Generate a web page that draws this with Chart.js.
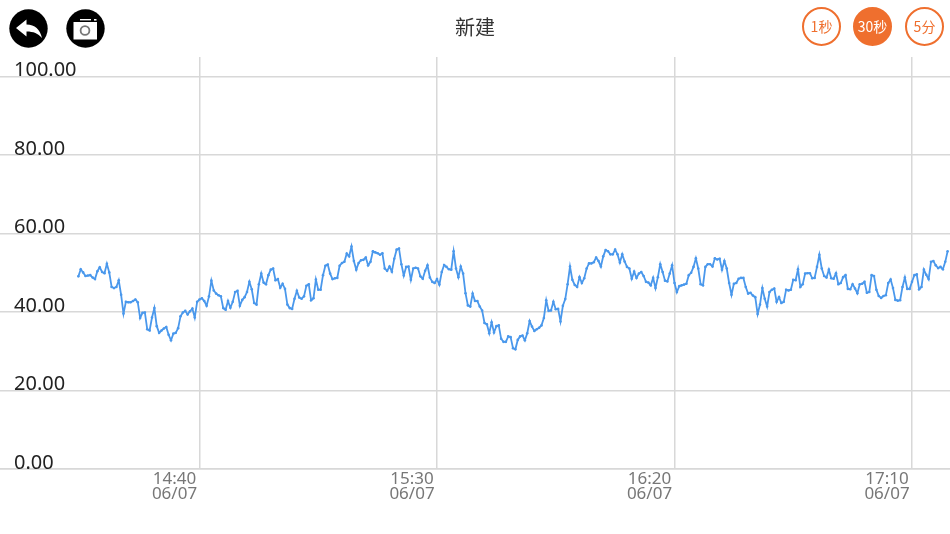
<!DOCTYPE html>
<html>
<head>
<meta charset="utf-8">
<title>新建</title>
<script src="https://cdn.jsdelivr.net/npm/chart.js@4"></script>
<style>
  html, body { margin: 0; padding: 0; background: #fff; }
  #wrap { position: relative; width: 950px; height: 534px; overflow: hidden; }
  #chart { position: absolute; left: 0; top: 0; }
  .title {
    position: absolute; left: 375px; width: 200px; top: 12px; text-align: center;
    font: 20px/30px "Noto Sans CJK SC", sans-serif; color: #333;
  }
  .icon { position: absolute; top: 9px; width: 39px; height: 39px; }
  .btn {
    position: absolute; top: 7px; width: 35px; height: 35px; border: 2px solid #ef6f2e;
    border-radius: 50%; text-align: center; color: #ef6f2e;
    font: 14px/35px "Noto Sans CJK SC", sans-serif;
  }
  .btn.on { background: #ef6f2e; color: #fff; }
</style>
</head>
<body>
<div id="wrap">
  <canvas id="chart" width="950" height="534"></canvas>
  <svg class="icon" style="left:9px" viewBox="0 0 39 39">
    <circle cx="19.5" cy="19.5" r="19.2" fill="#000"/>
    <path d="M7 19 L17.5 10.5 V15.5 C26 15.5 31 20.5 33 29 C29 24.5 24.5 22.5 17.5 22.5 V27.5 Z" fill="#fff"/>
  </svg>
  <svg class="icon" style="left:66px" viewBox="0 0 39 39">
    <circle cx="19.5" cy="19.5" r="19.2" fill="#000"/>
    <rect x="7.5" y="13" width="23.5" height="17.5" fill="#fff"/>
    <rect x="14" y="10" width="11" height="1.4" fill="#fff"/>
    <rect x="28" y="10" width="2.5" height="1.6" fill="#fff"/>
    <circle cx="19" cy="21.5" r="4.4" fill="#fff" stroke="#777" stroke-width="1.8"/>
  </svg>
  <div class="title">新建</div>
  <div class="btn" style="left:802px">1秒</div>
  <div class="btn on" style="left:853px">30秒</div>
  <div class="btn" style="left:905px">5分</div>
</div>

<script>
// ── Data ──
const startMinute = 854.5;  // 14:14:30, one sample every 30 sec
const stepMinute = 0.5;

const values = [
  49.1, 50.9, 50.1, 49.2, 49.3, 49.4, 48.8, 48.4, 50.4, 51.4, 50.2, 49.9, 52.3, 50.1, 46.4, 46.1, 46.4, 48.1, 44.4, 39.6,
  42.6, 42.5, 42.5, 42.8, 43.2, 42.5, 38.5, 39.8, 39.9, 35.6, 35.3, 38.6, 41.0, 36.4, 34.7, 35.3, 35.8, 36.2, 34.2, 32.8,
  34.5, 34.7, 35.9, 38.9, 39.9, 40.3, 39.4, 40.2, 40.9, 38.6, 42.6, 43.2, 43.5, 42.8, 41.6, 44.0, 48.0, 45.5, 44.7, 44.3,
  44.0, 41.0, 40.6, 42.8, 41.1, 42.6, 45.1, 45.4, 41.6, 43.1, 43.8, 45.1, 47.7, 45.8, 42.3, 41.9, 47.1, 49.8, 47.5, 47.1,
  49.4, 50.8, 51.1, 48.1, 48.4, 46.2, 47.2, 45.9, 41.9, 41.0, 40.8, 43.4, 45.4, 43.7, 43.4, 44.0, 46.7, 47.1, 43.0, 43.5,
  48.3, 45.7, 45.7, 49.4, 51.8, 52.1, 49.8, 48.4, 48.6, 48.7, 51.8, 52.5, 52.8, 54.9, 54.2, 56.7, 53.0, 50.8, 52.5, 53.2,
  53.3, 53.9, 51.9, 52.8, 55.5, 55.2, 55.0, 54.6, 55.0, 51.1, 50.5, 51.6, 50.3, 53.6, 55.9, 56.2, 52.2, 49.3, 51.5, 51.6,
  48.2, 51.1, 51.3, 51.1, 49.1, 48.5, 50.5, 51.9, 48.8, 47.7, 47.4, 48.4, 47.0, 50.2, 52.0, 51.5, 50.9, 50.8, 55.5, 51.1,
  48.9, 51.6, 49.8, 44.8, 41.7, 41.4, 44.7, 42.8, 42.8, 41.4, 40.4, 37.2, 36.9, 34.6, 37.4, 34.8, 36.4, 36.6, 33.2, 32.4,
  32.4, 33.8, 33.6, 30.8, 30.5, 32.9, 33.8, 34.0, 32.8, 34.6, 37.7, 36.3, 35.2, 35.6, 36.0, 36.6, 38.5, 43.0, 40.3, 40.4,
  42.6, 40.7, 40.8, 37.6, 41.6, 43.3, 47.1, 51.6, 48.2, 46.9, 46.4, 48.9, 47.4, 48.6, 51.1, 52.4, 52.4, 52.7, 53.9, 53.0,
  51.6, 54.2, 55.8, 55.5, 54.7, 54.7, 55.9, 54.7, 52.6, 54.7, 52.9, 51.5, 51.1, 48.5, 50.3, 48.7, 49.8, 50.2, 49.2, 47.7,
  47.5, 46.8, 48.7, 46.1, 48.9, 52.2, 50.2, 48.0, 47.8, 49.8, 51.9, 47.4, 45.1, 46.6, 46.8, 47.0, 47.2, 49.4, 50.0, 51.5,
  53.7, 51.1, 47.1, 46.8, 51.5, 52.2, 52.2, 51.6, 53.7, 53.4, 53.6, 50.8, 53.0, 51.1, 47.4, 44.4, 47.2, 47.4, 48.5, 48.7,
  48.7, 46.4, 44.7, 44.9, 44.2, 43.8, 39.5, 41.9, 46.1, 43.4, 41.4, 45.1, 45.7, 46.0, 42.6, 43.8, 42.3, 42.6, 45.7, 45.5,
  45.7, 48.2, 48.1, 50.9, 46.4, 47.1, 49.8, 49.9, 49.9, 48.6, 48.7, 51.5, 54.6, 51.1, 49.2, 48.8, 50.8, 48.6, 48.5, 49.9,
  47.1, 47.4, 48.9, 49.4, 45.9, 45.8, 47.1, 46.0, 44.8, 47.1, 47.2, 47.7, 44.9, 45.1, 49.4, 49.2, 45.7, 44.1, 43.6, 44.1,
  44.3, 47.4, 48.3, 46.1, 43.1, 42.9, 43.0, 46.4, 48.8, 45.9, 45.9, 47.7, 49.4, 49.6, 45.8, 46.4, 50.8, 49.5, 48.4, 52.8,
  53.0, 51.9, 51.2, 51.5, 50.9, 52.8, 55.5
];

const tickMinutes = [880, 930, 980, 1030];
const tickTimes = ['14:40', '15:30', '16:20', '17:10'];
const tickDates = ['06/07', '06/07', '06/07', '06/07'];

// ── Chart ──
const GRID = '#d8d8d8';
const points = values.map((v, i) => ({ x: startMinute + i * stepMinute, y: v }));

new Chart(document.getElementById('chart').getContext('2d'), {
  type: 'line',
  data: {
    datasets: [{
      data: points,
      borderColor: '#4a98ec',
      backgroundColor: '#4a98ec',
      borderWidth: 1.8,
      pointRadius: 1.3,
      pointBorderWidth: 0,
      tension: 0,
      fill: false
    }]
  },
  options: {
    responsive: false,
    animation: false,
    layout: { autoPadding: false, padding: { top: 57, left: 0, right: 0, bottom: 0 } },
    plugins: { legend: { display: false }, tooltip: { enabled: false } },
    scales: {
      x: {
        type: 'linear',
        min: 838,
        max: 1038,
        afterBuildTicks: s => { s.ticks = tickMinutes.map(v => ({ value: v })); },
        afterFit: s => {
          s.height = 65;
          s.paddingLeft = 0;
          s.paddingRight = 0;
        },
        grid: { color: GRID, lineWidth: 1.5, drawTicks: false },
        border: { color: GRID, width: 1.5 },
        ticks: {
          autoSkip: false,
          maxRotation: 0,
          padding: 3,
          labelOffset: -25,
          color: '#777',
          font: { family: '"Noto Sans"', size: 17, lineHeight: '15px' },
          callback: (v, i) => [tickTimes[i], tickDates[i]]
        }
      },
      y: {
        min: 0,
        max: 105,
        afterFit: s => { s.width = 0; },
        grid: { color: GRID, lineWidth: 1.5, drawTicks: false },
        border: { display: false },
        ticks: {
          stepSize: 20,
          includeBounds: false,
          mirror: true,
          padding: 14,
          labelOffset: -6,
          color: '#222',
          font: { family: '"Noto Sans"', size: 20 },
          callback: v => v.toFixed(2)
        }
      }
    }
  }
});
</script>
</body>
</html>
